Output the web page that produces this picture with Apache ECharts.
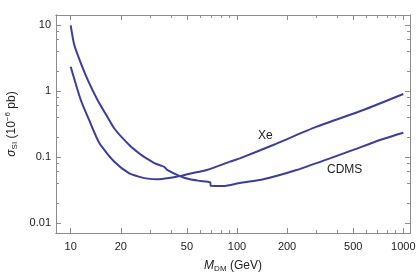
<!DOCTYPE html>
<html><head><meta charset="utf-8">
<script src="https://cdn.jsdelivr.net/npm/echarts@6/dist/echarts.min.js"></script>
<style>html,body{margin:0;padding:0;background:#fff}#c{width:417px;height:274px}</style>
</head><body><div id="c"></div>
<script>
const cdmsMass  = [10, 10.5, 11.6, 12.8, 14.5, 16.3, 18.3, 22.5, 26.1, 28.4, 32.1, 35, 36.5, 38, 45.4, 52, 60, 69, 69.5, 83, 104, 144, 228, 362, 500, 724, 1000];
const cdmsSigma = [9.8, 5.0, 2.5, 1.38, 0.73, 0.44, 0.27, 0.152, 0.111, 0.096, 0.080, 0.074, 0.071, 0.064, 0.0515, 0.046, 0.0435, 0.0414, 0.0367, 0.0364, 0.0405, 0.046, 0.0635, 0.0955, 0.128, 0.181, 0.233];
const xeMass  = [10, 11.5, 12.9, 14.9, 18.3, 22.5, 26, 28.4, 33, 39, 45.4, 52, 65.7, 90.8, 104, 165, 301, 575, 1000];
const xeSigma = [2.33, 0.73, 0.364, 0.161, 0.085, 0.0566, 0.050, 0.0475, 0.046, 0.048, 0.0515, 0.056, 0.0635, 0.085, 0.0955, 0.152, 0.288, 0.515, 0.9];
const xMajor = [10, 20, 50, 100, 200, 500, 1000];
const xMinor = [30, 40, 60, 70, 80, 90, 300, 400, 600, 700, 800, 900];
const yMajor = [0.01, 0.1, 1, 10];
const yMinor = [0.02, 0.04, 0.06, 0.08, 0.2, 0.4, 0.6, 0.8, 2, 4, 6, 8];
const xMin = 8.16, xMax = 1097, yMin = 0.00708, yMax = 14.1;

const frame = '#8c8c8c', txt = '#222', lineCol = '#3d3d9b';
const font = 'Liberation Sans, Arial, sans-serif';

function xa(pos, ticks, len, labels, extra) {
  return Object.assign({
    type: 'log', logBase: 10, position: pos, min: xMin, max: xMax,
    axisLine: {show: true, lineStyle: {color: frame, width: 1}},
    axisTick: {show: true, inside: true, length: len, customValues: ticks, lineStyle: {color: frame}},
    axisLabel: labels ? {show: true, customValues: ticks, color: txt, fontSize: 11, fontFamily: font, margin: 8,
      formatter: v => String(Math.round(v))} : {show: false},
    splitLine: {show: false}, minorTick: {show: false}
  }, extra || {});
}
function ya(pos, ticks, len, labels, extra) {
  return Object.assign({
    type: 'log', logBase: 10, position: pos, min: yMin, max: yMax,
    axisLine: {show: true, lineStyle: {color: frame, width: 1}},
    axisTick: {show: true, inside: true, length: len, customValues: ticks, lineStyle: {color: frame}},
    axisLabel: labels ? {show: true, customValues: ticks, color: txt, fontSize: 11, fontFamily: font, margin: 5,
      formatter: v => String(+v.toPrecision(3))} : {show: false},
    splitLine: {show: false}, minorTick: {show: false}
  }, extra || {});
}

const chart = echarts.init(document.getElementById('c'), null, {renderer: 'canvas'});
chart.setOption({
  animation: false,
  backgroundColor: '#fff',
  grid: {left: 56, top: 15, right: 7, bottom: 41, containLabel: false, outerBoundsMode: 'none'},
  xAxis: [
    xa('bottom', xMajor, 5, true, {
      name: '{i|M}{s|DM} {n|(GeV)}', nameLocation: 'middle', nameGap: 25,
      nameTextStyle: {rich: {
        i: {fontStyle: 'italic', fontSize: 12, color: txt, fontFamily: font, lineHeight: 15},
        s: {fontSize: 8, color: txt, fontFamily: font, verticalAlign: 'bottom', lineHeight: 15},
        n: {fontSize: 12, color: txt, fontFamily: font, lineHeight: 15}
      }}
    }),
    xa('bottom', xMinor, 3, false),
    xa('top', xMajor, 5, false),
    xa('top', xMinor, 3, false)
  ],
  yAxis: [
    ya('left', yMajor, 5, true, {
      name: '{i|σ}{s|SI} {n|(10}{p|−6}{n| pb)}', nameLocation: 'middle', nameGap: 34, nameRotate: 90,
      nameTextStyle: {rich: {
        i: {fontStyle: 'italic', fontSize: 12, color: txt, fontFamily: font, lineHeight: 15},
        s: {fontSize: 8, color: txt, fontFamily: font, verticalAlign: 'bottom', lineHeight: 15},
        n: {fontSize: 12, color: txt, fontFamily: font, lineHeight: 15},
        p: {fontSize: 8, color: txt, fontFamily: font, verticalAlign: 'top', lineHeight: 15}
      }}
    }),
    ya('left', yMinor, 3, false),
    ya('right', yMajor, 5, false),
    ya('right', yMinor, 3, false)
  ],
  series: [
    {name: 'CDMS', type: 'line', data: cdmsMass.map((m, i) => [m, cdmsSigma[i]]), showSymbol: false,
     smooth: 0.2, lineStyle: {color: lineCol, width: 2}, xAxisIndex: 0, yAxisIndex: 0},
    {name: 'Xe', type: 'line', data: xeMass.map((m, i) => [m, xeSigma[i]]), showSymbol: false,
     smooth: 0.2, lineStyle: {color: lineCol, width: 2}, xAxisIndex: 0, yAxisIndex: 0}
  ],
  graphic: [
    {type: 'text', left: 258, top: 130, style: {text: 'Xe', fill: txt, font: '12px ' + font}},
    {type: 'text', left: 327, top: 164, style: {text: 'CDMS', fill: txt, font: '12px ' + font}}
  ]
});
</script></body></html>
